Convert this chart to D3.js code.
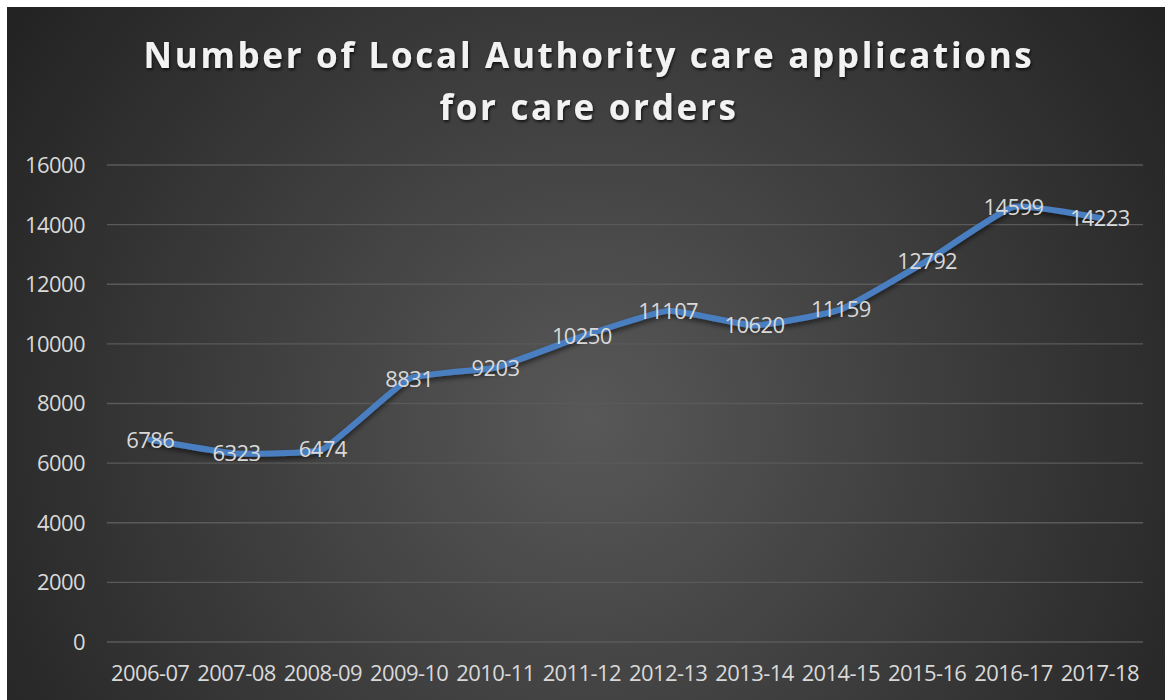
<html>
<head>
<script src="https://d3js.org/d3.v7.min.js"></script>
<style>
  body { margin: 0; background: #fff; }
  svg { display: block; }
</style>
</head>
<body>
<svg id="chart" width="1165" height="700"></svg>
<script>
const years = ["2006-07","2007-08","2008-09","2009-10","2010-11","2011-12","2012-13","2013-14","2014-15","2015-16","2016-17","2017-18"];
const applications = [6786, 6323, 6474, 8831, 9203, 10250, 11107, 10620, 11159, 12792, 14599, 14223];
const yTicks = [0, 2000, 4000, 6000, 8000, 10000, 12000, 14000, 16000];
const titleLines = ["Number of Local Authority care applications", "for care orders"];

const svg = d3.select("#chart");
const font = "'Open Sans', sans-serif";

const defs = svg.append("defs");
const grad = defs.append("radialGradient").attr("id", "bg")
  .attr("gradientUnits", "userSpaceOnUse")
  .attr("cx", 590).attr("cy", 420).attr("r", 700);
grad.append("stop").attr("offset", "0%").attr("stop-color", "#585858");
grad.append("stop").attr("offset", "100%").attr("stop-color", "#232323");

const shadow = defs.append("filter").attr("id", "shadow")
  .attr("x", "-10%").attr("y", "-20%").attr("width", "120%").attr("height", "140%");
shadow.append("feDropShadow").attr("dx", 0).attr("dy", 3).attr("stdDeviation", 2.5)
  .attr("flood-color", "#000").attr("flood-opacity", 0.55);

const tshadow = defs.append("filter").attr("id", "tshadow");
tshadow.append("feDropShadow").attr("dx", 1).attr("dy", 2).attr("stdDeviation", 1.5)
  .attr("flood-color", "#000").attr("flood-opacity", 0.7);

svg.append("rect").attr("x", 7).attr("y", 7).attr("width", 1158).attr("height", 693)
  .attr("fill", "url(#bg)");

const x = d3.scaleBand().domain(years).range([107, 1143]);
const y = d3.scaleLinear().domain([0, 16000]).range([642, 165]);

// gridlines
svg.append("g").selectAll("line").data(yTicks).join("line")
  .attr("x1", 107).attr("x2", 1143)
  .attr("y1", d => y(d)).attr("y2", d => y(d))
  .attr("stroke", "#5a5a5a").attr("stroke-width", 1.3);

// y axis labels
svg.append("g").selectAll("text").data(yTicks).join("text")
  .attr("x", 85).attr("y", d => y(d)).attr("dy", "0.36em")
  .attr("text-anchor", "end")
  .attr("fill", "#d9d9d9").attr("font-family", font).attr("font-size", 22)
  .attr("letter-spacing", -0.6)
  .text(d => d);

// x axis labels
svg.append("g").selectAll("text").data(years).join("text")
  .attr("x", d => x(d) + x.bandwidth() / 2).attr("y", 681)
  .attr("text-anchor", "middle")
  .attr("fill", "#d9d9d9").attr("font-family", font).attr("font-size", 22)
  .attr("letter-spacing", -0.6)
  .text(d => d);

// line
const line = d3.line()
  .x((d, i) => x(years[i]) + x.bandwidth() / 2)
  .y(d => y(d))
  .curve(d3.curveCardinal.tension(0.6));

svg.append("path").datum(applications)
  .attr("d", line)
  .attr("fill", "none")
  .attr("stroke", "#4a7fc1")
  .attr("stroke-width", 6)
  .attr("stroke-linejoin", "round")
  .attr("stroke-linecap", "round")
  .attr("filter", "url(#shadow)");

// data labels
svg.append("g").selectAll("text").data(applications).join("text")
  .attr("x", (d, i) => x(years[i]) + x.bandwidth() / 2)
  .attr("y", d => y(d)).attr("dy", "0.36em")
  .attr("text-anchor", "middle")
  .attr("fill", "#d9d9d9").attr("font-family", font).attr("font-size", 22)
  .attr("letter-spacing", -0.6)
  .text(d => d);

// title
svg.append("g").selectAll("text").data(titleLines).join("text")
  .attr("x", 589).attr("y", (d, i) => 68 + i * 52)
  .attr("text-anchor", "middle")
  .attr("fill", "#f2f2f2").attr("font-family", font).attr("font-weight", "bold")
  .attr("font-size", 35).attr("letter-spacing", 2.7)
  .attr("filter", "url(#tshadow)")
  .text(d => d);
</script>
</body>
</html>
